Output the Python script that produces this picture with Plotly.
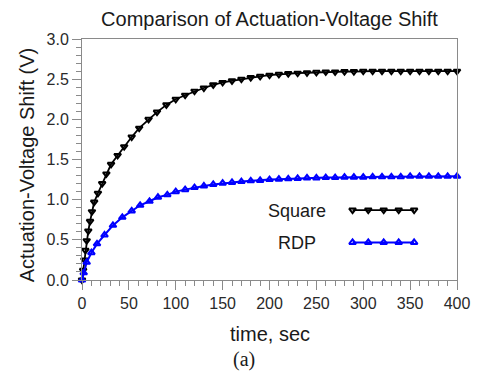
import plotly.graph_objects as go

# ---- data ----
square_t = [0, 1.2, 2.5, 3.6, 5, 6.7, 8.6, 10.6, 13, 17, 21.5, 26, 31, 38, 45, 53, 61, 71,
            80, 90, 100, 110, 120, 130, 140, 150, 160, 170, 180, 190, 200, 210, 220, 230,
            240, 250, 260, 270, 280, 290, 300, 310, 320, 330, 340, 350, 360, 370, 380, 390, 400]
square_v = [0, 0.12, 0.25, 0.37, 0.49, 0.61, 0.73, 0.85, 0.97, 1.08, 1.20, 1.32, 1.44, 1.55,
            1.66, 1.78, 1.89, 2.00, 2.09, 2.18, 2.25, 2.30, 2.35, 2.39, 2.43, 2.46, 2.48,
            2.50, 2.52, 2.535, 2.55, 2.56, 2.57, 2.575, 2.58, 2.585, 2.59, 2.59, 2.595,
            2.595, 2.60, 2.60, 2.60, 2.60, 2.60, 2.60, 2.60, 2.60, 2.60, 2.60, 2.60]

rdp_t = [0, 1.8, 5, 10, 16, 24, 33, 43, 53, 62, 72, 81, 91, 100, 110, 120, 130, 140, 150,
         160, 170, 180, 190, 200, 210, 220, 230, 240, 250, 260, 270, 280, 290, 300, 310,
         320, 330, 340, 350, 360, 370, 380, 390, 400]
rdp_v = [0, 0.09, 0.22, 0.34, 0.45, 0.56, 0.68, 0.78, 0.86, 0.93, 0.98, 1.03, 1.06, 1.10,
         1.125, 1.15, 1.17, 1.19, 1.205, 1.215, 1.225, 1.235, 1.24, 1.25, 1.255, 1.26,
         1.265, 1.27, 1.27, 1.275, 1.275, 1.28, 1.28, 1.28, 1.285, 1.285, 1.285, 1.285,
         1.29, 1.29, 1.29, 1.29, 1.29, 1.29]

series_names = ["Square", "RDP"]
x_ticks = [0, 50, 100, 150, 200, 250, 300, 350, 400]
y_ticks = [0.0, 0.5, 1.0, 1.5, 2.0, 2.5, 3.0]

# legend sample positions (fraction of plot area)
leg_x = [0.7215, 0.7634, 0.8045, 0.8445, 0.8856]
leg_y = [0.290, 0.156]
leg_text_y = [0.286, 0.153]

BLACK = "#000000"
BLUE = "#0000ff"
AXIS = "#8a8a8a"
FONT = "Liberation Sans, Arial, sans-serif"
TXT = "#1a1a1a"

fig = go.Figure()
fig.add_trace(go.Scatter(
    x=square_t, y=square_v, mode="lines+markers", name=series_names[0],
    line=dict(color=BLACK, width=1.8),
    marker=dict(symbol="triangle-down-open", size=6, color=BLACK, line=dict(width=2, color=BLACK)),
    cliponaxis=False, showlegend=False))
fig.add_trace(go.Scatter(
    x=rdp_t, y=rdp_v, mode="lines+markers", name=series_names[1],
    line=dict(color=BLUE, width=2),
    marker=dict(symbol="triangle-up-open", size=6, color=BLUE, line=dict(width=2, color=BLUE)),
    cliponaxis=False, showlegend=False))

# hand-drawn legend samples (symbol to the right of text, as in the reference)
fig.add_trace(go.Scatter(
    x=leg_x, y=[leg_y[0]] * len(leg_x), xaxis="x2", yaxis="y2", mode="lines+markers",
    line=dict(color=BLACK, width=1.8),
    marker=dict(symbol="triangle-down-open", size=6, color=BLACK, line=dict(width=2, color=BLACK)),
    showlegend=False, hoverinfo="skip"))
fig.add_trace(go.Scatter(
    x=leg_x, y=[leg_y[1]] * len(leg_x), xaxis="x2", yaxis="y2", mode="lines+markers",
    line=dict(color=BLUE, width=2),
    marker=dict(symbol="triangle-up-open", size=6, color=BLUE, line=dict(width=2, color=BLUE)),
    showlegend=False, hoverinfo="skip"))

for name, yy in zip(series_names, leg_text_y):
    fig.add_annotation(x=0.573, y=yy, xref="x2", yref="y2", text=name, showarrow=False,
                       xanchor="center", yanchor="middle",
                       font=dict(family=FONT, size=18, color=TXT))

# axis titles and caption
fig.add_annotation(x=-0.1458, y=0.477, xref="paper", yref="paper", text="Actuation-Voltage Shift (V)",
                   textangle=-90, showarrow=False, xanchor="center", yanchor="middle",
                   font=dict(family=FONT, size=20, color=TXT))
fig.add_annotation(x=0.5, y=-0.224, xref="paper", yref="paper", text="time, sec", showarrow=False,
                   xanchor="center", yanchor="middle", font=dict(family=FONT, size=20, color=TXT))
fig.add_annotation(x=0.4327, y=-0.328, xref="paper", yref="paper", text="(a)", showarrow=False,
                   xanchor="center", yanchor="middle",
                   font=dict(family="Liberation Serif, Times New Roman, serif", size=20, color=TXT))

fig.update_layout(
    width=474, height=363,
    margin=dict(l=74, r=18, t=31, b=91),
    paper_bgcolor="white", plot_bgcolor="white",
    font=dict(family=FONT, size=16, color="#2a2a2a"),
    title=dict(text="Comparison of Actuation-Voltage Shift", x=0.5, xref="paper", xanchor="center",
               y=0.971, yanchor="middle", font=dict(family=FONT, size=20, color=TXT)),
    xaxis=dict(range=[0, 400], tickvals=x_ticks, ticktext=[str(v) for v in x_ticks],
               showgrid=False, zeroline=False, showline=True, linecolor=AXIS, linewidth=1,
               mirror=True, ticks="outside", ticklen=9, tickcolor=AXIS, tickwidth=1,
               minor=dict(dtick=10, ticks="outside", ticklen=5, tickcolor=AXIS, tickwidth=1),
               tickfont=dict(family=FONT, size=16, color="#2a2a2a")),
    yaxis=dict(range=[0, 3], tickvals=y_ticks, ticktext=[f"{v:.1f}" for v in y_ticks],
               showgrid=False, zeroline=False, showline=True, linecolor=AXIS, linewidth=1,
               mirror=True, ticks="outside", ticklen=9, tickcolor=AXIS, tickwidth=1,
               minor=dict(dtick=0.1, ticks="outside", ticklen=5, tickcolor=AXIS, tickwidth=1),
               tickfont=dict(family=FONT, size=16, color="#2a2a2a")),
    xaxis2=dict(range=[0, 1], overlaying="x", visible=False, fixedrange=True),
    yaxis2=dict(range=[0, 1], overlaying="y", visible=False, fixedrange=True),
)

fig.write_html("out.html")
